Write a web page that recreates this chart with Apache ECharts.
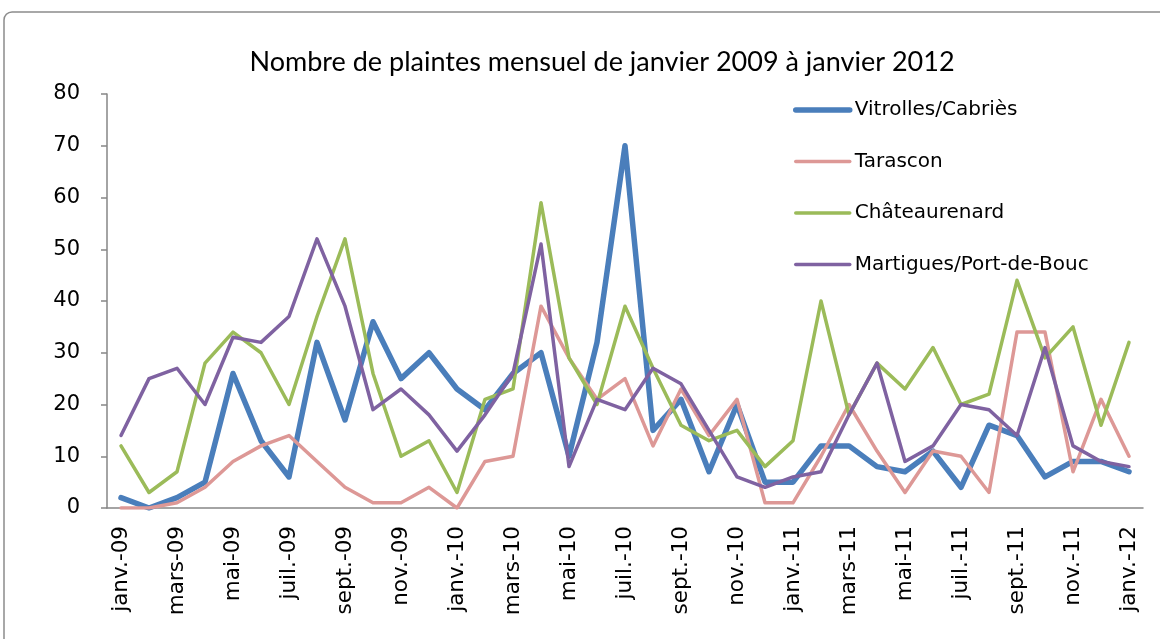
<!DOCTYPE html>
<html>
<head>
<meta charset="utf-8">
<script src="https://cdn.jsdelivr.net/npm/echarts@6/dist/echarts.min.js"></script>
<style>
  html, body { margin: 0; padding: 0; background: #fff; }
  #chart { width: 1160px; height: 639px; }
</style>
</head>
<body>
<div id="chart"></div>
<script>
const months = [
  'janv.-09', 'févr.-09', 'mars-09', 'avr.-09', 'mai-09', 'juin-09', 'juil.-09', 'août-09', 'sept.-09', 'oct.-09', 'nov.-09', 'déc.-09',
  'janv.-10', 'févr.-10', 'mars-10', 'avr.-10', 'mai-10', 'juin-10', 'juil.-10', 'août-10', 'sept.-10', 'oct.-10', 'nov.-10', 'déc.-10',
  'janv.-11', 'févr.-11', 'mars-11', 'avr.-11', 'mai-11', 'juin-11', 'juil.-11', 'août-11', 'sept.-11', 'oct.-11', 'nov.-11', 'déc.-11',
  'janv.-12'
];

const vitrolles = [2, 0, 2, 5, 26, 13, 6, 32, 17, 36, 25, 30, 23, 19, 26, 30, 10, 32, 70, 15, 21, 7, 20, 5, 5, 12, 12, 8, 7, 11, 4, 16, 14, 6, 9, 9, 7];
const tarascon = [0, 0, 1, 4, 9, 12, 14, 9, 4, 1, 1, 4, 0, 9, 10, 39, 29, 21, 25, 12, 23, 14, 21, 1, 1, 10, 20, 11, 3, 11, 10, 3, 34, 34, 7, 21, 10];
const chateaurenard = [12, 3, 7, 28, 34, 30, 20, 37, 52, 26, 10, 13, 3, 21, 23, 59, 29, 20, 39, 27, 16, 13, 15, 8, 13, 40, 18, 28, 23, 31, 20, 22, 44, 29, 35, 16, 32];
const martigues = [14, 25, 27, 20, 33, 32, 37, 52, 39, 19, 23, 18, 11, 18, 26, 51, 8, 21, 19, 27, 24, 15, 6, 4, 6, 7, 18, 28, 9, 12, 20, 19, 14, 31, 12, 9, 8];

const seriesNames = ['Vitrolles/Cabriès', 'Tarascon', 'Châteaurenard', 'Martigues/Port-de-Bouc'];
const seriesColors = ['#4a7ebb', '#dd9896', '#9bbb59', '#7f62a1'];
const seriesWidths = [5.5, 3.5, 3.5, 3.5];
const seriesData = [vitrolles, tarascon, chateaurenard, martigues];

const chart = echarts.init(document.getElementById('chart'));

chart.setOption({
  animation: false,
  title: {
    text: 'Nombre de plaintes mensuel de janvier 2009 à janvier 2012',
    left: 597,
    top: 44,
    textAlign: 'center',
    textStyle: {
      fontFamily: 'Lato, sans-serif',
      fontSize: 27,
      fontWeight: 'normal',
      color: '#000'
    }
  },
  legend: {
    orient: 'vertical',
    left: 793,
    top: 100,
    padding: 0,
    itemWidth: 54,
    itemHeight: 14,
    itemGap: 31.5,
    itemStyle: { opacity: 0 },
    data: seriesNames.map((name, i) => ({
      name: name,
      lineStyle: { width: seriesWidths[i], color: seriesColors[i], cap: 'round' }
    })),
    textStyle: {
      fontFamily: 'DejaVu Sans',
      fontSize: 20,
      lineHeight: 20,
      color: '#000'
    }
  },
  grid: { left: 107, right: 17, top: 94, bottom: 131 },
  xAxis: {
    type: 'category',
    data: months,
    boundaryGap: true,
    axisLine: { lineStyle: { color: '#868686', width: 1.5 } },
    axisTick: { interval: 1, length: 6, lineStyle: { color: '#868686', width: 1.5 } },
    axisLabel: {
      interval: 1,
      rotate: 90,
      margin: 18,
      fontFamily: 'DejaVu Sans',
      fontSize: 21.5,
      color: '#000'
    }
  },
  yAxis: {
    type: 'value',
    min: 0,
    max: 80,
    interval: 10,
    splitLine: { show: false },
    axisLine: { show: true, lineStyle: { color: '#868686', width: 1.5 } },
    axisTick: { show: true, length: 6, lineStyle: { color: '#868686', width: 1.5 } },
    axisLabel: {
      margin: 27,
      fontFamily: 'DejaVu Sans',
      fontSize: 21,
      color: '#000'
    }
  },
  series: seriesNames.map((name, i) => ({
    name: name,
    type: 'line',
    data: seriesData[i],
    symbol: 'none',
    color: seriesColors[i],
    lineStyle: { width: seriesWidths[i], color: seriesColors[i], join: 'round', cap: 'round' }
  })),
  graphic: [{
    type: 'rect',
    shape: { x: 4, y: 12, width: 1180, height: 660, r: 8 },
    style: { fill: null, stroke: '#8c8c8c', lineWidth: 1.5 },
    silent: true
  }]
});
</script>
</body>
</html>
